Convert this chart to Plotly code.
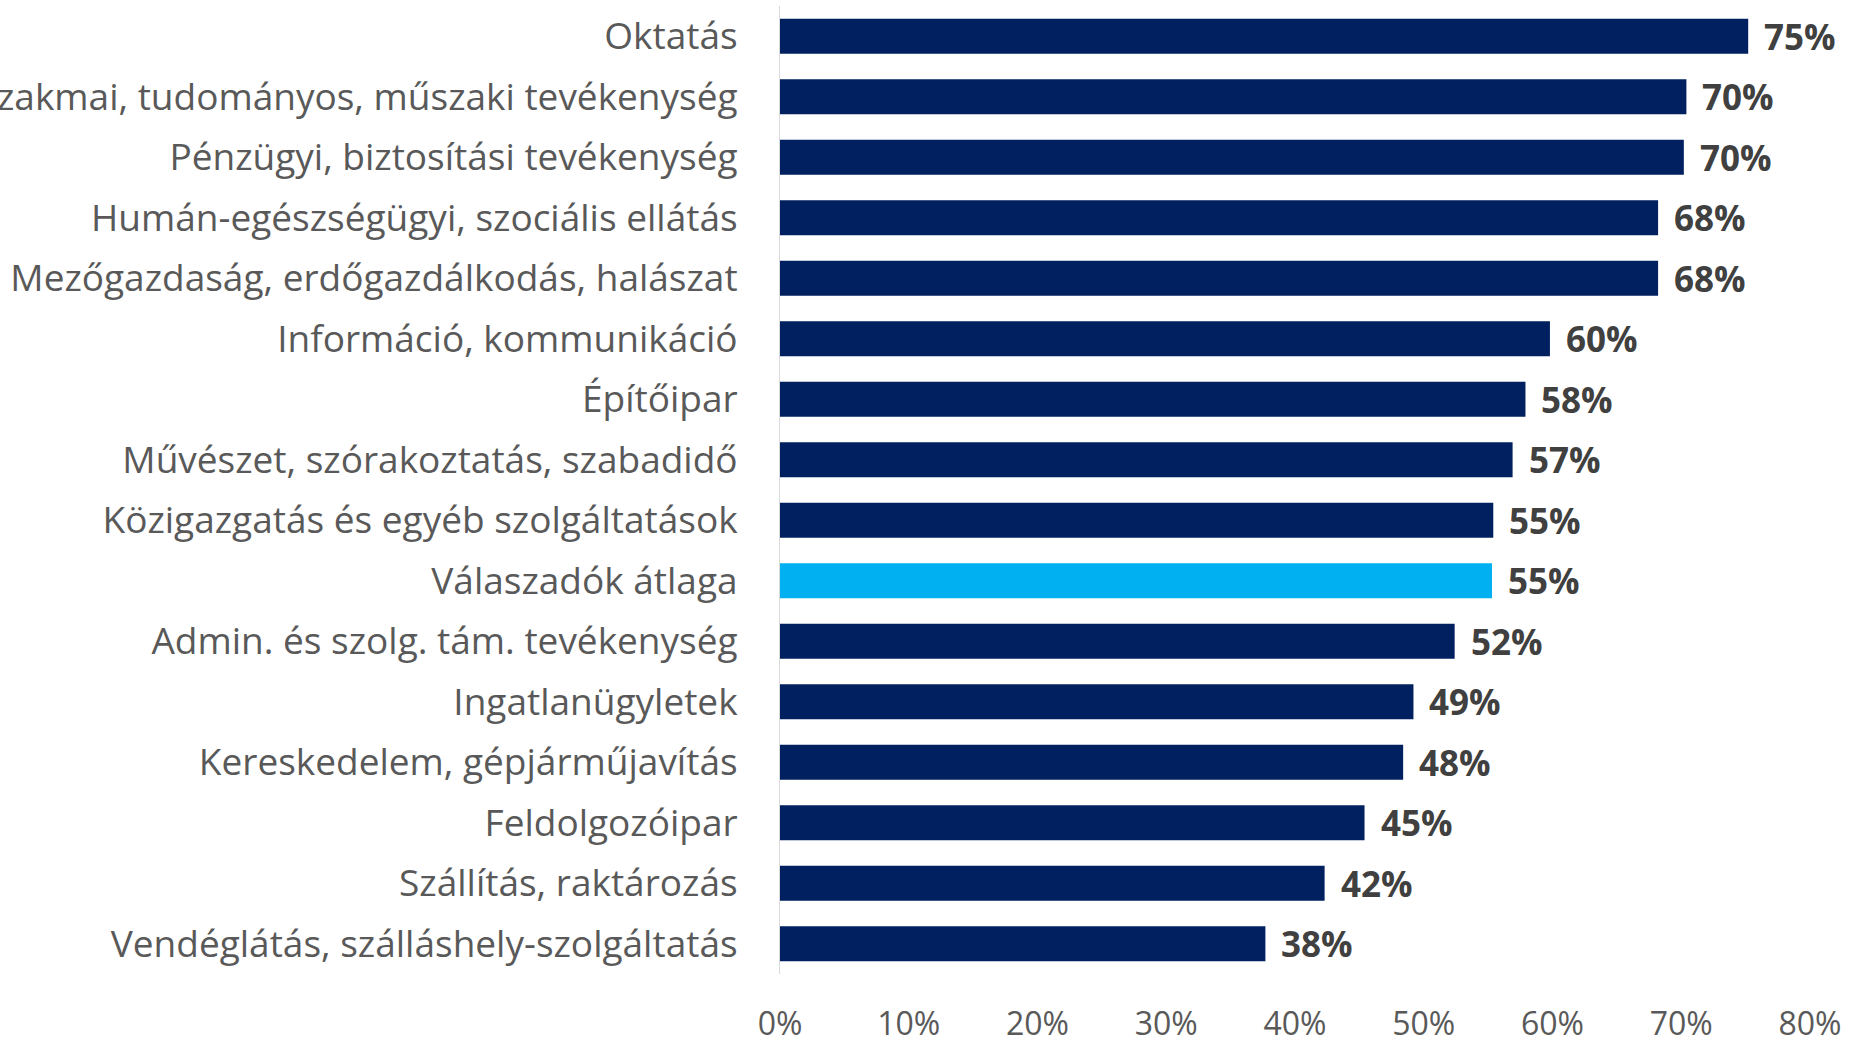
import plotly.graph_objects as go

# Sectors (top to bottom) and their shares
categories = [
    "Oktatás",
    "Szakmai, tudományos, műszaki tevékenység",
    "Pénzügyi, biztosítási tevékenység",
    "Humán-egészségügyi, szociális ellátás",
    "Mezőgazdaság, erdőgazdálkodás, halászat",
    "Információ, kommunikáció",
    "Építőipar",
    "Művészet, szórakoztatás, szabadidő",
    "Közigazgatás és egyéb szolgáltatások",
    "Válaszadók átlaga",
    "Admin. és szolg. tám. tevékenység",
    "Ingatlanügyletek",
    "Kereskedelem, gépjárműjavítás",
    "Feldolgozóipar",
    "Szállítás, raktározás",
    "Vendéglátás, szálláshely-szolgáltatás",
]
values = [0.752, 0.704, 0.702, 0.682, 0.682, 0.598, 0.579, 0.569,
          0.554, 0.553, 0.524, 0.492, 0.484, 0.454, 0.423, 0.377]
average_label = "Válaszadók átlaga"

x_ticks = [0, 0.1, 0.2, 0.3, 0.4, 0.5, 0.6, 0.7, 0.8]

NAVY = "#002060"
SKY = "#00B0F0"
colors = [SKY if c == average_label else NAVY for c in categories]

fig = go.Figure(
    go.Bar(
        x=values,
        y=categories,
        orientation="h",
        marker=dict(color=colors, line=dict(width=0)),
        hoverinfo="skip",
    )
)

# Value labels to the right of each bar
for cat, val in zip(categories, values):
    fig.add_annotation(
        x=val, y=cat, xref="x", yref="y",
        text=f"{val * 100:.0f}%",
        showarrow=False, xanchor="left", yanchor="middle",
        xshift=14,
        font=dict(family="Open Sans", size=35, color="#404040", weight="bold"),
    )

fig.update_layout(
    width=1854, height=1045,
    margin=dict(l=780, r=44, t=6, b=71, autoexpand=False),
    plot_bgcolor="white", paper_bgcolor="white",
    bargap=0.42,
    showlegend=False,
    font=dict(family="Open Sans", color="#595959"),
)

fig.update_xaxes(
    range=[0, 0.8],
    tickvals=x_ticks,
    tickformat=".0%",
    showgrid=False, zeroline=False, showline=False,
    ticks="", ticklabelstandoff=28,
    tickfont=dict(family="Open Sans", size=32, color="#595959"),
    automargin=False,
)

fig.update_yaxes(
    autorange="reversed",
    showgrid=False, zeroline=False,
    showline=True, linecolor="#D9D9D9", linewidth=1,
    ticks="", ticklabelstandoff=34,
    tickfont=dict(family="Open Sans", size=37, color="#595959"),
    automargin=False,
)

fig.write_html("out.html")
